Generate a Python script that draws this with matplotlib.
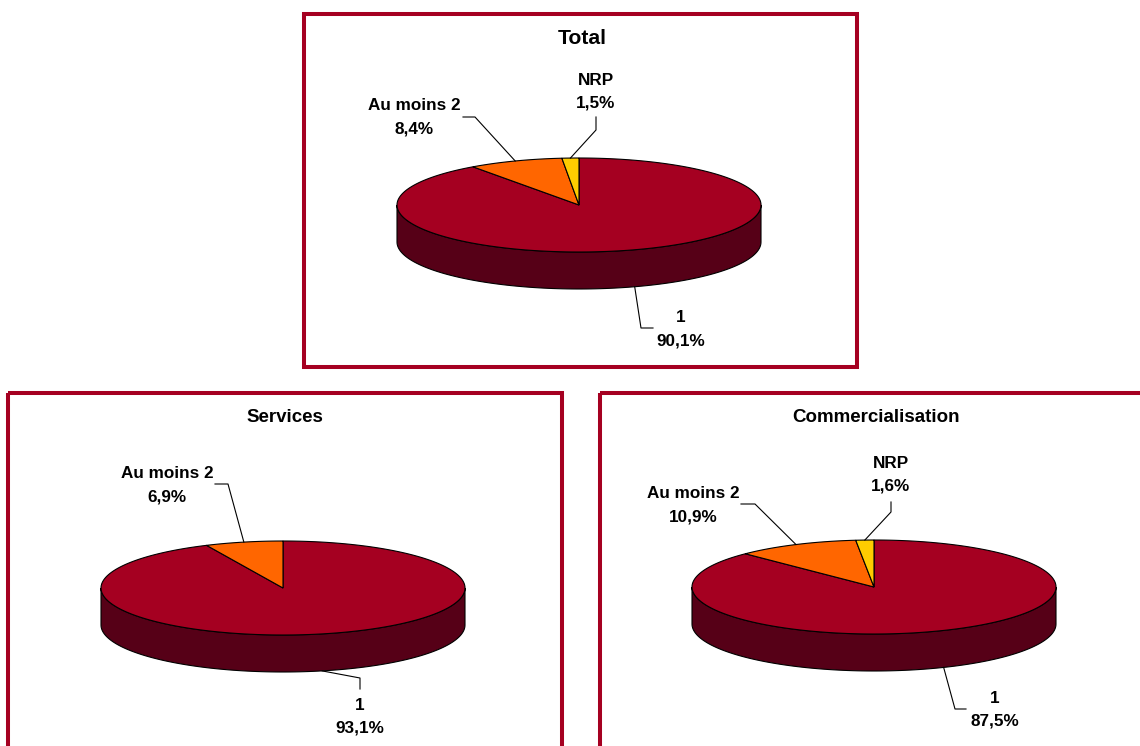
import numpy as np
import matplotlib
matplotlib.use("Agg")
import matplotlib.pyplot as plt
from matplotlib.patches import Polygon, Rectangle

plt.rcParams['font.family'] = ['Liberation Sans', 'DejaVu Sans']

# ---- data -------------------------------------------------------------
titles = ["Total", "Services", "Commercialisation"]

total_labels = ["1", "Au moins 2", "NRP"]
total_values = [90.1, 8.4, 1.5]

services_labels = ["1", "Au moins 2"]
services_values = [93.1, 6.9]

commerce_labels = ["1", "Au moins 2", "NRP"]
commerce_values = [87.5, 10.9, 1.6]

# ---- styling ----------------------------------------------------------
FRAME = "#A50021"
TOP_COLORS = {"1": "#A50021", "Au moins 2": "#FF6600", "NRP": "#FFCC00"}
SIDE_COLORS = {"1": "#560017", "Au moins 2": "#803300", "NRP": "#806600"}

fig = plt.figure(figsize=(11.4, 7.46), dpi=100)
ax = fig.add_axes([0, 0, 1, 1])
ax.set_xlim(0, 1140)
ax.set_ylim(746, 0)
ax.axis("off")


def rim(cx, cy, rx, ry, t, dy=0.0):
    t = np.radians(t)
    return cx + rx * np.cos(t), cy - ry * np.sin(t) + dy


def draw_pie3d(cx, cy, rx, ry, depth, labels, values, layout):
    tot = float(sum(values))
    bounds = 90 - 360 * np.concatenate([[0], np.cumsum(values)]) / tot
    # side walls (front half only)
    for i, lab in enumerate(labels):
        a0, a1 = bounds[i + 1], bounds[i]          # a0 < a1
        lo, hi = max(a0, -180), min(a1, 0)
        if hi > lo:
            t = np.linspace(lo, hi, 120)
            xs, ys = rim(cx, cy, rx, ry, t)
            xb, yb = rim(cx, cy, rx, ry, t, depth)
            pts = np.column_stack([np.r_[xs, xb[::-1]], np.r_[ys, yb[::-1]]])
            ax.add_patch(Polygon(pts, closed=True, facecolor=SIDE_COLORS[lab],
                                 edgecolor="black", lw=0.8, zorder=2))
    # top faces
    for i, lab in enumerate(labels):
        a0, a1 = bounds[i + 1], bounds[i]
        t = np.linspace(a1, a0, 200)
        xs, ys = rim(cx, cy, rx, ry, t)
        pts = np.column_stack([np.r_[cx, xs], np.r_[cy, ys]])
        ax.add_patch(Polygon(pts, closed=True, facecolor=TOP_COLORS[lab],
                             edgecolor="black", lw=0.8, zorder=3))
    # labels with leader lines
    for i, lab in enumerate(labels):
        mid = 0.5 * (bounds[i] + bounds[i + 1])
        on_front = np.sin(np.radians(mid)) < 0
        ax_, ay_ = rim(cx, cy, rx, ry, mid, depth if on_front else 0.0)
        (tx, ty), start, elbow = layout[lab]
        ax.text(tx, ty - 11.5, lab, ha="center", va="center",
                fontsize=12.3, fontweight="bold", zorder=5)
        ax.text(tx, ty + 11.5, f"{values[i]:.1f}%".replace(".", ","),
                ha="center", va="center", fontsize=12.3, fontweight="bold",
                zorder=5)
        if on_front:
            xs = [ax_, elbow[0], start[0]]
            ys = [ay_, elbow[1], start[1]]
        else:
            xs = [start[0], elbow[0], ax_]
            ys = [start[1], elbow[1], ay_]
        ax.plot(xs, ys, color="black", lw=0.8, zorder=4)


# ---- frames -----------------------------------------------------------
ax.add_patch(Rectangle((304, 14), 553, 353, fill=False, edgecolor=FRAME,
                       lw=2.9, zorder=1))
ax.add_patch(Rectangle((8, 393), 554, 400, fill=False, edgecolor=FRAME,
                       lw=2.9, zorder=1))
ax.add_patch(Rectangle((600, 393), 600, 400, fill=False, edgecolor=FRAME,
                       lw=2.9, zorder=1))

# ---- titles -----------------------------------------------------------
for (x, y), t, fs in zip([(582, 39), (285, 417), (876, 417)], titles,
                         [15.2, 13.5, 13.5]):
    ax.text(x, y, t, ha="center", va="center", fontsize=fs,
            fontweight="bold")

# ---- pies -------------------------------------------------------------
draw_pie3d(579, 205, 182, 47, 37, total_labels, total_values, {
    "1": ((681, 329.5), (653, 328), (641, 328)),
    "Au moins 2": ((414, 117.5), (463, 117), (475, 117)),
    "NRP": ((596, 92), (596, 117), (596, 130)),
})

draw_pie3d(283, 588, 182, 47, 37, services_labels, services_values, {
    "1": ((360, 716.5), (360, 689), (360, 678)),
    "Au moins 2": ((167, 485), (215, 484), (228, 484)),
})

draw_pie3d(874, 587, 182, 47, 37, commerce_labels, commerce_values, {
    "1": ((995, 710), (966, 709), (955, 709)),
    "Au moins 2": ((693, 505), (741, 504), (755, 504)),
    "NRP": ((891, 474.5), (891, 502), (891, 512)),
})

fig.savefig("out.png", dpi=100)
